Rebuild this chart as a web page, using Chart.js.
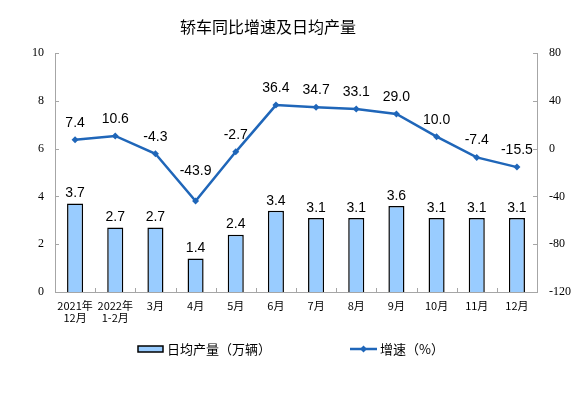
<!DOCTYPE html>
<html><head><meta charset="utf-8">
<script src="https://cdn.jsdelivr.net/npm/chart.js@4/dist/chart.umd.min.js"></script>
<style>html,body{margin:0;padding:0;background:#fff}#wrap{width:574px;height:397px}</style>
</head><body><div id="wrap"><canvas id="c" width="574" height="397"></canvas></div>
<script>
const categories = [["2021年","12月"],["2022年","1-2月"],"3月","4月","5月","6月","7月","8月","9月","10月","11月","12月"];
const dailyOutput = [3.7,2.7,2.7,1.4,2.4,3.4,3.1,3.1,3.6,3.1,3.1,3.1];
const growthRate = [7.4,10.6,-4.3,-43.9,-2.7,36.4,34.7,33.1,29.0,10.0,-7.4,-15.5];
const leftTicks = [0,2,4,6,8,10];
const rightTicks = [-120,-80,-40,0,40,80];
const titleText = "轿车同比增速及日均产量";
const barLegend = "日均产量（万辆）";
const lineLegend = "增速（%）";

const LINE_COLOR = '#1F66B9';
const BAR_COLOR = '#99CCFF';
const AXIS_COLOR = '#A6A6A6';
const CJK = '"Noto Sans CJK SC", "Noto Sans", sans-serif';
const NUM = '"Liberation Sans", Arial, sans-serif';
const SERIF = '"Liberation Serif", "DejaVu Serif", serif';

const extras = {
  id: 'extras',
  afterDatasetsDraw(chart) {
    const ctx = chart.ctx;
    const ca = chart.chartArea;
    ctx.save();
    // inward tick marks
    ctx.strokeStyle = AXIS_COLOR; ctx.lineWidth = 1;
    const yl = chart.scales.y, yr = chart.scales.y1, x = chart.scales.x;
    leftTicks.forEach(v => { const py = Math.round(yl.getPixelForValue(v)) + 0.5; ctx.beginPath(); ctx.moveTo(ca.left, py); ctx.lineTo(ca.left + 4, py); ctx.stroke(); });
    rightTicks.forEach(v => { const py = Math.round(yr.getPixelForValue(v)) + 0.5; ctx.beginPath(); ctx.moveTo(ca.right, py); ctx.lineTo(ca.right - 4, py); ctx.stroke(); });
    const step = (ca.right - ca.left) / categories.length;
    for (let i = 1; i < categories.length; i++) { const px = Math.round(ca.left + i * step) + 0.5; ctx.beginPath(); ctx.moveTo(px, ca.bottom); ctx.lineTo(px, ca.bottom - 4); ctx.stroke(); }
    // data labels
    ctx.fillStyle = '#000'; ctx.font = '14px ' + NUM; ctx.textAlign = 'center'; ctx.textBaseline = 'middle';
    chart.getDatasetMeta(0).data.forEach((el, i) => { ctx.fillText(dailyOutput[i].toFixed(1), el.x, el.y - 10); });
    chart.getDatasetMeta(1).data.forEach((el, i) => {
      const lift = growthRate[i] < -40 ? 30 : 17;
      ctx.fillText(growthRate[i].toFixed(1), el.x, el.y - lift);
    });
    // title
    ctx.font = '16px ' + CJK; ctx.fillText(titleText, 268, 27);
    // legend
    const ly = 349;
    ctx.fillStyle = BAR_COLOR; ctx.strokeStyle = '#000'; ctx.lineWidth = 1.5;
    ctx.fillRect(138, ly - 3, 25, 6); ctx.strokeRect(138, ly - 3, 25, 6);
    ctx.fillStyle = '#000'; ctx.font = '13px ' + CJK; ctx.textAlign = 'left';
    ctx.fillText(barLegend, 167, ly);
    ctx.strokeStyle = LINE_COLOR; ctx.lineWidth = 2.5;
    ctx.beginPath(); ctx.moveTo(350, ly); ctx.lineTo(377, ly); ctx.stroke();
    ctx.fillStyle = LINE_COLOR; ctx.beginPath(); ctx.moveTo(363.5, ly - 3.5); ctx.lineTo(367, ly); ctx.lineTo(363.5, ly + 3.5); ctx.lineTo(360, ly); ctx.closePath(); ctx.fill();
    ctx.fillStyle = '#000'; ctx.fillText(lineLegend, 380, ly);
    ctx.restore();
  }
};

new Chart(document.getElementById('c'), {
  data: {
    labels: categories,
    datasets: [
      { type: 'bar', label: barLegend, data: dailyOutput, yAxisID: 'y', backgroundColor: BAR_COLOR, borderColor: '#000', borderWidth: 1.5, barPercentage: 0.4, categoryPercentage: 1, order: 2 },
      { type: 'line', label: lineLegend, data: growthRate, yAxisID: 'y1', borderColor: LINE_COLOR, backgroundColor: LINE_COLOR, borderWidth: 2.5, pointStyle: 'rectRot', pointRadius: 3.5, pointBorderWidth: 0, tension: 0, order: 1 }
    ]
  },
  options: {
    responsive: false, animation: false,
    layout: { padding: { top: 53, left: 0, right: 0, bottom: 0 } },
    plugins: { legend: { display: false }, tooltip: { enabled: false }, title: { display: false } },
    scales: {
      x: {
        offset: true,
        grid: { display: false, drawTicks: false },
        border: { color: AXIS_COLOR, width: 1 },
        ticks: { color: '#000', font: { family: CJK, size: 11, lineHeight: 1.15 }, padding: 7, maxRotation: 0, autoSkip: false },
        afterFit(s) { s.height = 105; }
      },
      y: {
        position: 'left', min: 0, max: 10,
        afterBuildTicks(s) { s.ticks = leftTicks.map(v => ({ value: v })); },
        grid: { display: false, drawTicks: false },
        border: { color: AXIS_COLOR, width: 1 },
        ticks: { color: '#000', font: { family: SERIF, size: 12 }, padding: 11 },
        afterFit(s) { s.width = 55; }
      },
      y1: {
        position: 'right', min: -120, max: 80,
        afterBuildTicks(s) { s.ticks = rightTicks.map(v => ({ value: v })); },
        grid: { display: false, drawTicks: false },
        border: { color: AXIS_COLOR, width: 1 },
        ticks: { color: '#000', font: { family: SERIF, size: 12 }, padding: 12 },
        afterFit(s) { s.width = 37; }
      }
    }
  },
  plugins: [extras]
});
</script></body></html>
